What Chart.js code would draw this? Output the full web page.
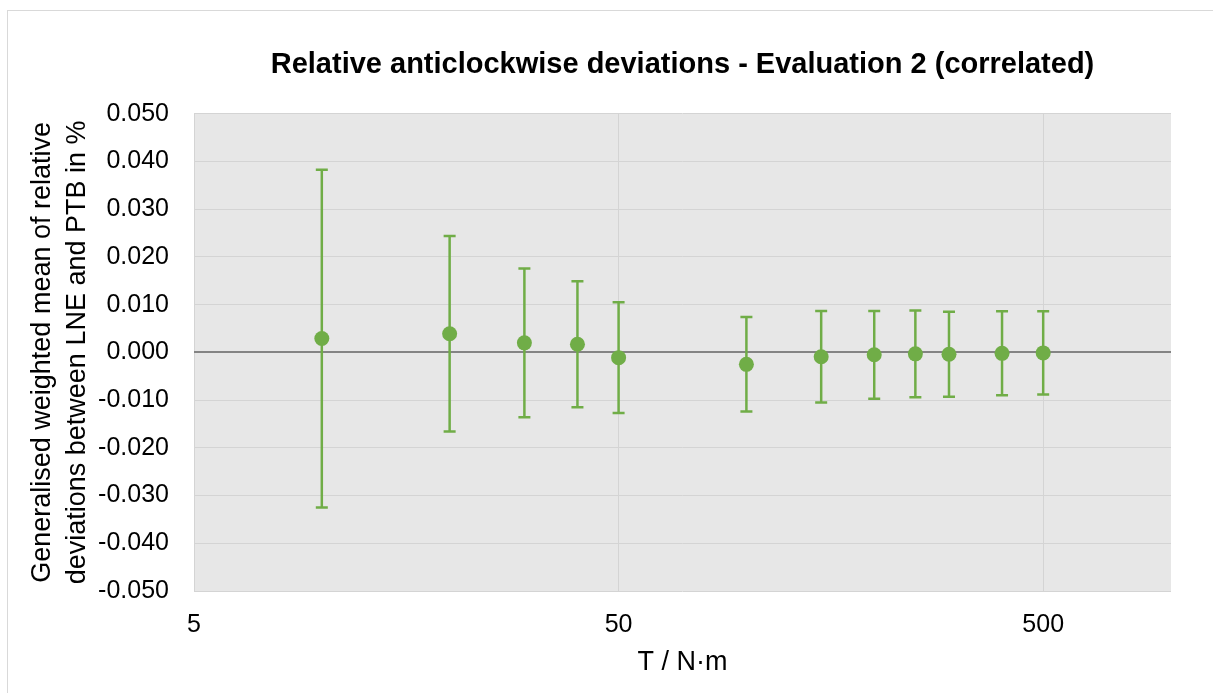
<!DOCTYPE html>
<html>
<head>
<meta charset="utf-8">
<script src="https://cdn.jsdelivr.net/npm/chart.js@4"></script>
<style>
  body { margin: 0; background: #fff; }
  #frame { position: absolute; left: 7px; top: 10px; width: 1220px; height: 700px; border: 1px solid #d9d9d9; }
  #wrap { position: absolute; left: 0; top: 0; width: 1213px; height: 693px; }
</style>
</head>
<body>
<div id="frame"></div>
<div id="wrap"><canvas id="chart" width="1213" height="693"></canvas></div>
<script>
// torque steps (N·m), generalised weighted mean of relative deviations (%), and its uncertainty (%)
const torque = [10, 20, 30, 40, 50, 100, 150, 200, 250, 300, 400, 500];
const meanDev = [0.0029, 0.0039, 0.0020, 0.0017, -0.0011, -0.0025, -0.0009, -0.0005, -0.0003, -0.0004, -0.0002, -0.0001];
const uncert = [0.0354, 0.0205, 0.0156, 0.0132, 0.0116, 0.0099, 0.0096, 0.0092, 0.0091, 0.0089, 0.0088, 0.0087];
const xTicks = [5, 50, 500];

const green = '#70ad47';
const font = 'Liberation Sans, Arial, sans-serif';

// error bars: low -> high segment per point, broken by a null
const errData = [];
torque.forEach((t, i) => {
    errData.push({ x: t, y: meanDev[i] - uncert[i] });
    errData.push({ x: t, y: meanDev[i] + uncert[i] });
    errData.push({ x: t, y: null });
});

const plotBg = {
    id: 'plotBg',
    beforeDraw(chart) {
        const { ctx, chartArea: a } = chart;
        ctx.save();
        ctx.fillStyle = '#e7e7e7';
        ctx.fillRect(a.left, a.top, a.right - a.left, a.bottom - a.top);
        ctx.restore();
    }
};

new Chart(document.getElementById('chart'), {
    type: 'scatter',
    data: {
        datasets: [
            {
                label: 'Mean',
                data: torque.map((t, i) => ({ x: t, y: meanDev[i] })),
                backgroundColor: green,
                borderColor: green,
                pointRadius: 7.5,
                pointBorderWidth: 0,
                order: 1
            },
            {
                label: 'Uncertainty',
                data: errData,
                showLine: true,
                spanGaps: false,
                borderColor: green,
                borderWidth: 2.5,
                pointStyle: 'line',
                pointRadius: 6,
                pointBorderColor: green,
                pointBorderWidth: 2.5,
                order: 2
            }
        ]
    },
    options: {
        responsive: false,
        animation: false,
        layout: { padding: { left: 0, right: 42, top: 0, bottom: 0 } },
        plugins: {
            legend: { display: false },
            tooltip: { enabled: false },
            title: {
                display: true,
                fullSize: false,
                text: 'Relative anticlockwise deviations - Evaluation 2 (correlated)',
                color: '#000',
                font: { family: font, size: 29, weight: 'bold' },
                padding: { top: 48, bottom: 31 }
            }
        },
        scales: {
            x: {
                type: 'logarithmic',
                min: 5,
                max: 1000,
                afterBuildTicks: s => { s.ticks = xTicks.map(v => ({ value: v })); },
                afterFit: s => { s.height = 102; },
                ticks: {
                    color: '#000',
                    font: { family: font, size: 25 },
                    padding: 19,
                    maxRotation: 0,
                    callback: v => String(v)
                },
                grid: { color: '#d4d4d4', lineWidth: 1, drawTicks: false },
                border: { display: false },
                title: {
                    display: true,
                    text: 'T / N·m',
                    color: '#000',
                    font: { family: font, size: 27 },
                    padding: { top: 0, bottom: 14 }
                }
            },
            y: {
                min: -0.05,
                max: 0.05,
                afterFit: s => { s.width = 194; },
                ticks: {
                    stepSize: 0.01,
                    color: '#000',
                    font: { family: font, size: 25 },
                    padding: 25,
                    callback: v => v.toFixed(3)
                },
                grid: {
                    drawTicks: false,
                    color: c => Math.abs(c.tick.value) < 1e-9 ? '#848484' : '#d4d4d4',
                    lineWidth: c => Math.abs(c.tick.value) < 1e-9 ? 2 : 1
                },
                border: { display: false },
                title: {
                    display: true,
                    text: ['Generalised weighted mean of relative', 'deviations between LNE and PTB in %'],
                    color: '#000',
                    font: { family: font, size: 27, lineHeight: 1.3 },
                    padding: { top: 25, bottom: 0 }
                }
            }
        }
    },
    plugins: [plotBg]
});
</script>
</body>
</html>
